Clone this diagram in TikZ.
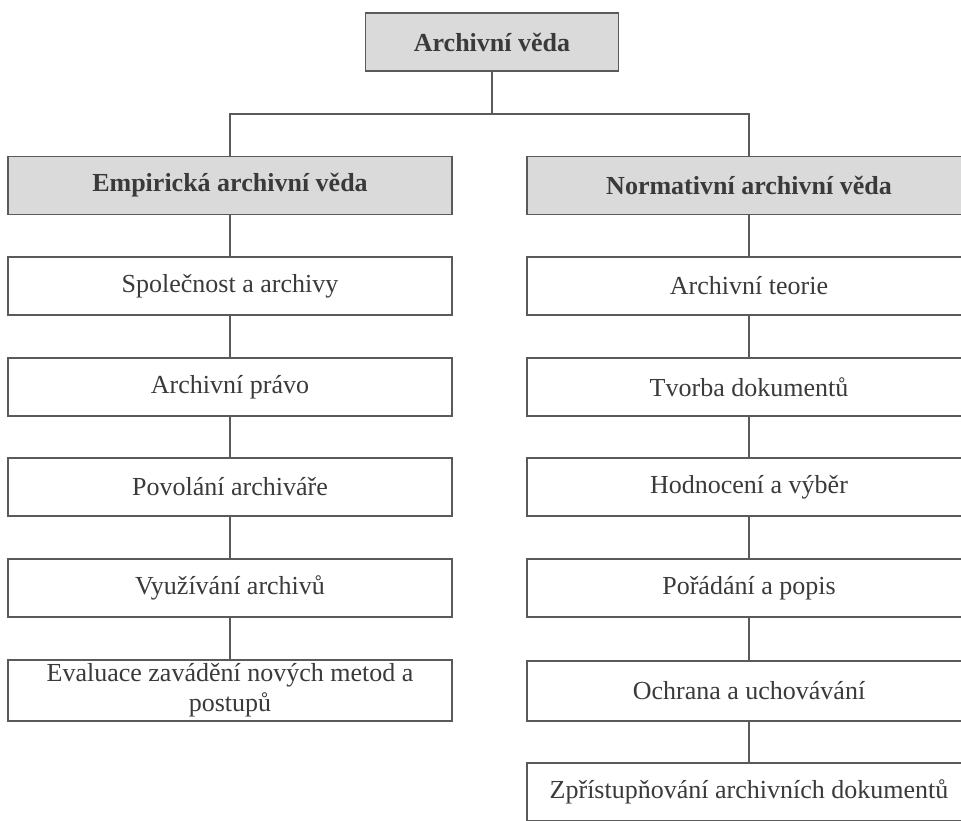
\documentclass[tikz,border=0pt]{standalone}
\usepackage{fontspec}
\setmainfont{Liberation Serif}
\definecolor{edge}{HTML}{5A5A5A}
\definecolor{graybox}{HTML}{DADADA}
\definecolor{txt}{HTML}{3A3A3A}
\begin{document}
\begin{tikzpicture}[x=1pt,y=-1pt,
  box/.style={draw=edge,line width=1.6pt,fill=white,minimum width=444pt,minimum height=58pt,inner sep=0pt,align=center,text=txt,font=\fontsize{26}{30}\selectfont},
  headbox/.style={box,fill=graybox,font=\fontsize{26}{30}\selectfont\bfseries},
  link/.style={draw=edge,line width=1.6pt}]
\useasboundingbox (0,0) rectangle (961,821);
\node[headbox,minimum width=253pt] (top) at (492,42) {Archivní věda};
\node[headbox] (L0) at (230,185.5) {Empirická archivní věda};
\node[headbox] (R0) at (749,185.5) {Normativní archivní věda};
\node[box] (L1) at (230,286) {Společnost a archivy};
\node[box] (L2) at (230,387) {Archivní právo};
\node[box] (L3) at (230,487) {Povolání archiváře};
\node[box] (L4) at (230,588) {Využívání archivů};
\node[box,minimum height=61pt] (L5) at (230,690.5) {Evaluace zavádění nových metod a\\postupů};
\node[box] (R1) at (749,286) {Archivní teorie};
\node[box] (R2) at (749,387) {Tvorba dokumentů};
\node[box] (R3) at (749,487) {Hodnocení a výběr};
\node[box] (R4) at (749,588) {Pořádání a popis};
\node[box,minimum height=60pt] (R5) at (749,691) {Ochrana a uchovávání};
\node[box] (R6) at (749,792) {Zpřístupňování archivních dokumentů};
\coordinate (split) at (492,114);
\draw[link] (top.south) -- (split);
\draw[link] (split) -| (L0.north);
\draw[link] (split) -| (R0.north);
\draw[link] (L0) -- (L1);
\draw[link] (L1) -- (L2);
\draw[link] (L2) -- (L3);
\draw[link] (L3) -- (L4);
\draw[link] (L4) -- (L5);
\draw[link] (R0) -- (R1);
\draw[link] (R1) -- (R2);
\draw[link] (R2) -- (R3);
\draw[link] (R3) -- (R4);
\draw[link] (R4) -- (R5);
\draw[link] (R5) -- (R6);
\end{tikzpicture}
\end{document}
